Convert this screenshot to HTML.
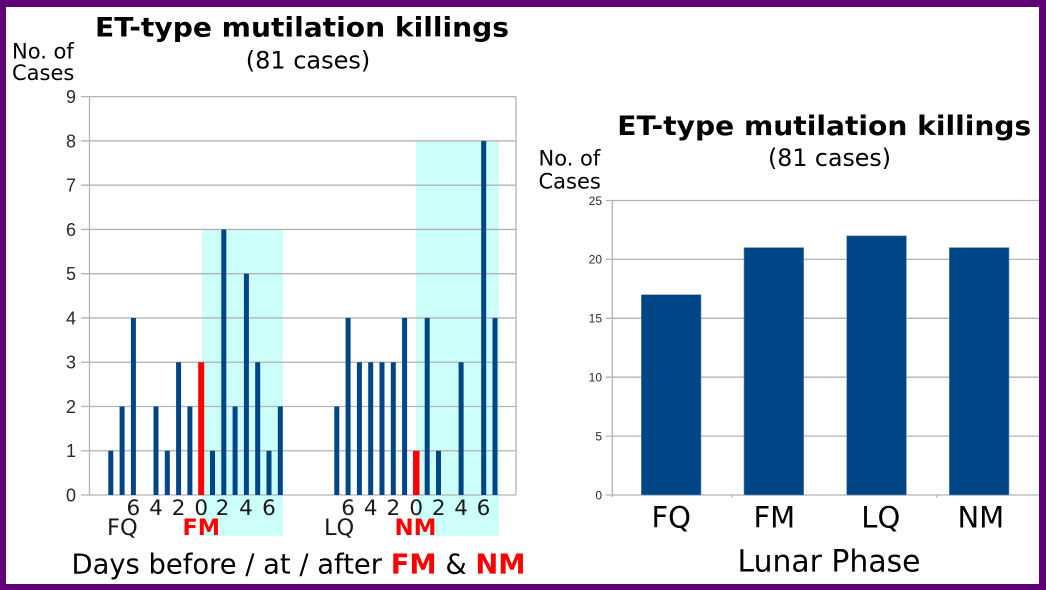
<!DOCTYPE html>
<html>
<head>
<meta charset="utf-8">
<style>
  html,body{margin:0;padding:0;background:#fff;}
  svg{display:block;}
  .dj{font-family:"DejaVu Sans","Liberation Sans",sans-serif;}
  .lib{font-family:"Liberation Sans","DejaVu Sans",sans-serif;}
</style>
</head>
<body>
<svg width="1046" height="590" viewBox="0 0 1046 590" xmlns="http://www.w3.org/2000/svg">
  <rect x="0" y="0" width="1046" height="590" fill="#5f0077"/>
  <rect x="6" y="7" width="1033" height="577" fill="#ffffff"/>

  <!-- ===== LEFT CHART ===== -->
  <rect x="202" y="229.4" width="81" height="306.6" fill="#ccfffa"/>
  <rect x="416" y="140.9" width="83" height="395.1" fill="#ccfffa"/>

  <g stroke="#b3b3b3" stroke-width="1.3">
    <line x1="81" y1="495" x2="516" y2="495"/>
    <line x1="81" y1="450.74" x2="516" y2="450.74"/>
    <line x1="81" y1="406.48" x2="516" y2="406.48"/>
    <line x1="81" y1="362.22" x2="516" y2="362.22"/>
    <line x1="81" y1="317.96" x2="516" y2="317.96"/>
    <line x1="81" y1="273.7" x2="516" y2="273.7"/>
    <line x1="81" y1="229.44" x2="516" y2="229.44"/>
    <line x1="81" y1="185.18" x2="516" y2="185.18"/>
    <line x1="81" y1="140.92" x2="516" y2="140.92"/>
    <line x1="81" y1="96.66" x2="516" y2="96.66"/>
    <line x1="89.5" y1="96.66" x2="89.5" y2="495"/>
    <line x1="516" y1="96.66" x2="516" y2="495"/>
  </g>

  <g class="lib" font-size="18" fill="#2a2a2a" text-anchor="end">
    <text x="76" y="501.4">0</text>
    <text x="76" y="457.1">1</text>
    <text x="76" y="412.9">2</text>
    <text x="76" y="368.6">3</text>
    <text x="76" y="324.4">4</text>
    <text x="76" y="280.1">5</text>
    <text x="76" y="235.8">6</text>
    <text x="76" y="191.6">7</text>
    <text x="76" y="147.3">8</text>
    <text x="76" y="103.1">9</text>
  </g>

  <g fill="#004586">
    <rect x="108.3" y="450.74" width="5" height="44.26"/>
    <rect x="119.6" y="406.48" width="5" height="88.52"/>
    <rect x="130.9" y="317.96" width="5" height="177.04"/>
    <rect x="153.5" y="406.48" width="5" height="88.52"/>
    <rect x="164.8" y="450.74" width="5" height="44.26"/>
    <rect x="176.1" y="362.22" width="5" height="132.78"/>
    <rect x="187.4" y="406.48" width="5" height="88.52"/>
    <rect x="210.0" y="450.74" width="5" height="44.26"/>
    <rect x="221.3" y="229.44" width="5" height="265.56"/>
    <rect x="232.6" y="406.48" width="5" height="88.52"/>
    <rect x="243.9" y="273.7" width="5" height="221.3"/>
    <rect x="255.2" y="362.22" width="5" height="132.78"/>
    <rect x="266.5" y="450.74" width="5" height="44.26"/>
    <rect x="277.8" y="406.48" width="5" height="88.52"/>

    <rect x="334.3" y="406.48" width="5" height="88.52"/>
    <rect x="345.6" y="317.96" width="5" height="177.04"/>
    <rect x="356.9" y="362.22" width="5" height="132.78"/>
    <rect x="368.2" y="362.22" width="5" height="132.78"/>
    <rect x="379.5" y="362.22" width="5" height="132.78"/>
    <rect x="390.8" y="362.22" width="5" height="132.78"/>
    <rect x="402.1" y="317.96" width="5" height="177.04"/>
    <rect x="424.7" y="317.96" width="5" height="177.04"/>
    <rect x="436.0" y="450.74" width="5" height="44.26"/>
    <rect x="458.6" y="362.22" width="5" height="132.78"/>
    <rect x="481.2" y="140.92" width="5" height="354.08"/>
    <rect x="492.5" y="317.96" width="5" height="177.04"/>
  </g>
  <g fill="#ff0000">
    <rect x="198.2" y="362.22" width="6" height="132.78"/>
    <rect x="413" y="450.74" width="6.5" height="44.26"/>
  </g>

  <g class="dj" font-size="21.5" fill="#1a1a1a" text-anchor="middle">
    <text x="133.4" y="515">6</text>
    <text x="156" y="515">4</text>
    <text x="178.6" y="515">2</text>
    <text x="201.2" y="515">0</text>
    <text x="222.5" y="515">2</text>
    <text x="246" y="515">4</text>
    <text x="269" y="515">6</text>

    <text x="348.1" y="515">6</text>
    <text x="370.7" y="515">4</text>
    <text x="393.3" y="515">2</text>
    <text x="416.2" y="515">0</text>
    <text x="438.7" y="515">2</text>
    <text x="461.1" y="515">4</text>
    <text x="483.5" y="515">6</text>
  </g>

  <g class="dj" font-size="22.5">
    <text x="107" y="535" fill="#1a1a1a">FQ</text>
    <text x="324" y="535" fill="#1a1a1a">LQ</text>
    <text x="182.5" y="535" fill="#ff0000" font-weight="bold" textLength="37.5" lengthAdjust="spacingAndGlyphs">FM</text>
    <text x="394.5" y="535" fill="#ff0000" font-weight="bold" textLength="42" lengthAdjust="spacingAndGlyphs">NM</text>
  </g>

  <text class="dj" x="95" y="36.7" font-size="26.5" font-weight="bold" fill="#000" textLength="414" lengthAdjust="spacingAndGlyphs">ET-type mutilation killings</text>
  <text class="dj" x="308" y="68.5" font-size="24" fill="#000" text-anchor="middle">(81 cases)</text>
  <text class="dj" x="12" y="58.3" font-size="21" fill="#000">No. of</text>
  <text class="dj" x="12" y="80" font-size="21" fill="#000">Cases</text>

  <text class="dj" x="71.5" y="573.3" font-size="27.3" fill="#000" textLength="454" lengthAdjust="spacingAndGlyphs">Days before / at / after <tspan fill="#ff0000" font-weight="bold">FM</tspan> &amp; <tspan fill="#ff0000" font-weight="bold">NM</tspan></text>

  <!-- ===== RIGHT CHART ===== -->
  <g stroke="#b3b3b3" stroke-width="1.3">
    <line x1="605.7" y1="495" x2="1039" y2="495"/>
    <line x1="605.7" y1="436.1" x2="1039" y2="436.1"/>
    <line x1="605.7" y1="377.2" x2="1039" y2="377.2"/>
    <line x1="605.7" y1="318.3" x2="1039" y2="318.3"/>
    <line x1="605.7" y1="259.4" x2="1039" y2="259.4"/>
    <line x1="605.7" y1="200.5" x2="1039" y2="200.5"/>
    <line x1="612.3" y1="200.5" x2="612.3" y2="497"/>
    <line x1="731.7" y1="495" x2="731.7" y2="497.5"/>
    <line x1="936.7" y1="495" x2="936.7" y2="497.5"/>
  </g>

  <g class="lib" font-size="12" fill="#2a2a2a" text-anchor="end">
    <text x="602" y="499.3">0</text>
    <text x="602" y="440.4">5</text>
    <text x="602" y="381.5">10</text>
    <text x="602" y="322.6">15</text>
    <text x="602" y="263.7">20</text>
    <text x="602" y="204.8">25</text>
  </g>

  <g fill="#004586" stroke="#6f8fb5" stroke-width="0.6">
    <rect x="641.3" y="294.7" width="59.7" height="200.3"/>
    <rect x="744" y="247.6" width="59.7" height="247.4"/>
    <rect x="846.7" y="235.8" width="59.7" height="259.2"/>
    <rect x="949.3" y="247.6" width="59.7" height="247.4"/>
  </g>

  <g class="dj" font-size="29" fill="#000" text-anchor="middle">
    <text x="671.2" y="527.3">FQ</text>
    <text x="774.3" y="527.3">FM</text>
    <text x="880.8" y="527.3">LQ</text>
    <text x="980.8" y="527.3">NM</text>
  </g>
  <text class="dj" x="829" y="571.7" font-size="29.8" fill="#000" text-anchor="middle" textLength="183" lengthAdjust="spacingAndGlyphs">Lunar Phase</text>

  <text class="dj" x="617.3" y="135" font-size="26.5" font-weight="bold" fill="#000" textLength="414" lengthAdjust="spacingAndGlyphs">ET-type mutilation killings</text>
  <text class="dj" x="829.5" y="166" font-size="23.7" fill="#000" text-anchor="middle">(81 cases)</text>
  <text class="dj" x="538.5" y="165.7" font-size="21" fill="#000">No. of</text>
  <text class="dj" x="538.5" y="188.3" font-size="21" fill="#000">Cases</text>
</svg>
</body>
</html>
